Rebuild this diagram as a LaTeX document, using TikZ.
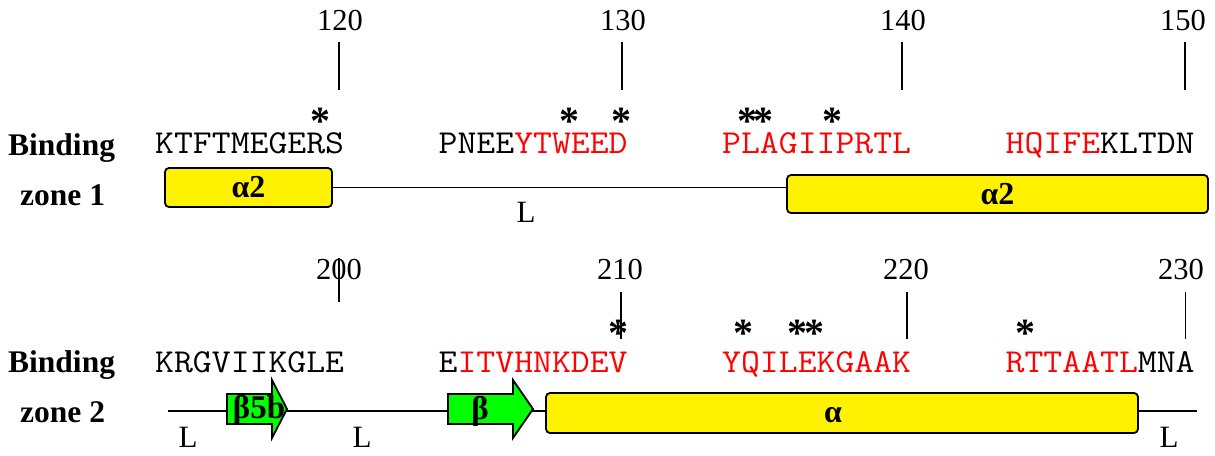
\documentclass[tikz,border=0pt]{standalone}
\usepackage{fontspec}
\setmainfont{Liberation Serif}
\newfontfamily\seqfont{Latin Modern Mono}[FakeStretch=1.095]
\tikzset{
  lbl/.style={inner sep=0pt, anchor=base west, font=\fontsize{31.5}{31.5}\selectfont\bfseries},
  num/.style={inner sep=0pt, anchor=base, font=\fontsize{30.5}{30.5}\selectfont},
  seq/.style={inner sep=0pt, anchor=base west, font=\fontsize{33.5}{33.5}\seqfont},
  star/.style={inner xsep=0pt, inner ysep=-3pt, anchor=base, font=\fontsize{40}{40}\selectfont\bfseries},
  tickline/.style={line width=1.8pt},
  helix/.style={draw, line width=1.8pt, fill=yellow, rounded corners=4pt, inner sep=0pt,
    font=\fontsize{32}{32}\selectfont\bfseries},
  strand/.style={draw, line width=1.8pt, fill=green, line join=miter},
  chain/.style={line width=1.8pt},
  loopl/.style={inner sep=0pt, anchor=base, font=\fontsize{31}{31}\selectfont},
  slbl/.style={inner sep=0pt, font=\fontsize{33}{33}\selectfont\bfseries},
}
\begin{document}
\begin{tikzpicture}[x=1pt,y=-1pt]
\useasboundingbox (0,0) rectangle (1215,455);

% ---------------- Zone 1 ----------------
\node[num] (n120) at (340,30) {120};
\node[num] (n130) at (623,30) {130};
\node[num] (n140) at (903,30) {140};
\node[num] (n150) at (1183,30) {150};
\draw[tickline] (339,42) -- (339,90);
\draw[tickline] (622,42) -- (622,90);
\draw[tickline] (902,42) -- (902,90);
\draw[tickline] (1185,42) -- (1185,90);

\node[star] (a1) at (320,134) {*};
\node[star] (a2) at (569,134) {*};
\node[star] (a3) at (621,134) {*};
\node[star] (a45) at (755.5,134) {*\kern-4.5pt*};
\node[star] (a6) at (832,134) {*};

\node[lbl] (b1) at (8,155) {Binding};
\node[lbl] (z1) at (20,205) {zone 1};

\node[seq] (s11) at (155,153) {KTFTMEGERS};
\node[seq] (s12) at (438.5,153) {PNEE\textcolor{red}{YTWEED}};
\node[seq] (s13) at (722,153) {\textcolor{red}{PLAGIIPRTL}};
\node[seq] (s14) at (1005.5,153) {\textcolor{red}{HQIFE}KLTDN};

\node[helix, minimum width=167pt, minimum height=39pt] (h11) at (248.5,187.5) {α2};
\node[helix, minimum width=421pt, minimum height=38pt] (h12) at (997.5,194) {α2};
\draw[chain] (h11.east) -- (h11.east -| h12.west);
\node[loopl] (l11) at (526,222) {L};

% ---------------- Zone 2 ----------------
\node[num] (n200) at (339,279) {200};
\node[num] (n210) at (620,279) {210};
\node[num] (n220) at (906,279) {220};
\node[num] (n230) at (1181,279) {230};
\draw[tickline] (339,258) -- (339,302);
\draw[tickline] (621,292) -- (621,339);
\draw[tickline] (907,292) -- (907,339);
\draw[tickline] (1185.5,292) -- (1185.5,339);

\node[star] (c1) at (618,346) {*};
\node[star] (c2) at (743,346) {*};
\node[star] (c34) at (805.5,346) {*\kern-3pt*};
\node[star] (c5) at (1025,346) {*};

\node[lbl] (b2) at (8,372) {Binding};
\node[lbl] (z2) at (20,422) {zone 2};

\node[seq] (s21) at (155,372) {KRGVIIKGLE};
\node[seq] (s22) at (438.5,372) {E\textcolor{red}{ITVHNKDEV}};
\node[seq] (s23) at (722,372) {\textcolor{red}{YQILEKGAAK}};
\node[seq] (s24) at (1005.5,372) {\textcolor{red}{RTTAATL}MNA};

\coordinate (cs) at (168,411);
\coordinate (ce) at (1197,411);
\draw[chain] (cs) -- (ce);

\draw[strand] (227,394) -- (272,394) -- (272,380) -- (287,409) -- (272,438) -- (272,424) -- (227,424) -- cycle;
\node[slbl] (st1) at (259,410) {β5b};
\draw[strand] (448,394) -- (513,394) -- (513,380) -- (533,409) -- (513,438) -- (513,424) -- (448,424) -- cycle;
\node[slbl] (st2) at (480,411) {β};

\node[helix, minimum width=592pt, minimum height=40pt] (h21) at (842,413) {};
\node[slbl, font=\fontsize{32}{32}\selectfont\bfseries] (h21l) at (833,415) {α};

\node[loopl] (l21) at (188,447) {L};
\node[loopl] (l22) at (362,447) {L};
\node[loopl] (l23) at (1169,447) {L};
\end{tikzpicture}
\end{document}
